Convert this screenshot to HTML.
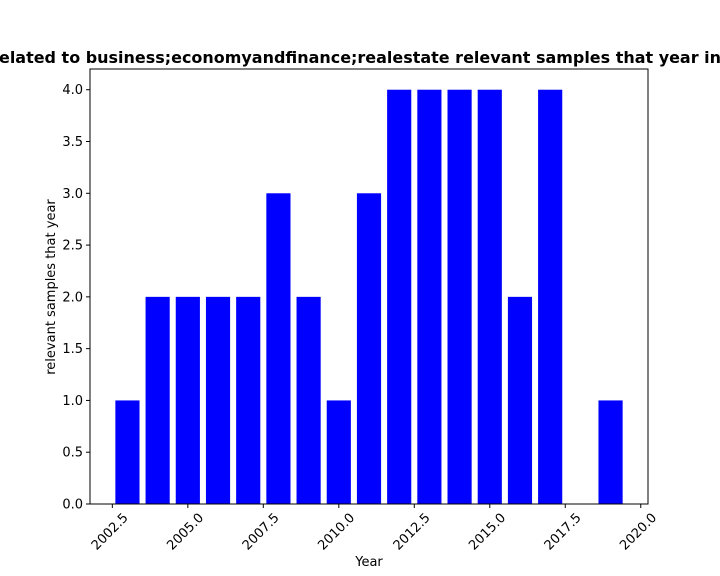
<!DOCTYPE html>
<html><head><meta charset="utf-8"><style>
body{margin:0;background:#fff;}
svg{display:block;font-family:"DejaVu Sans","Liberation Sans",sans-serif;}
</style></head><body>
<svg id="chart" width="720" height="576">
<text x="-1" y="63" font-size="16" font-weight="bold" textLength="722" lengthAdjust="spacingAndGlyphs">elated to business;economyandfinance;realestate relevant samples that year in</text>
<g id="bars"></g>
<rect x="90" y="69" width="558" height="435" fill="none" stroke="#000" stroke-width="1"/>
<g id="xticks" font-size="13"></g>
<g id="yticks" font-size="13"></g>
<text x="369" y="566" font-size="13" text-anchor="middle">Year</text>
<text transform="translate(55,287) rotate(-90)" font-size="13" text-anchor="middle">relevant samples that year</text>
</svg>
<script>
const years=[2003,2004,2005,2006,2007,2008,2009,2010,2011,2012,2013,2014,2015,2016,2017,2018,2019];
const counts=[1,2,2,2,2,3,2,1,3,4,4,4,4,2,4,0,1];
const xTicks=[2002.5,2005.0,2007.5,2010.0,2012.5,2015.0,2017.5,2020.0];
const yTicks=[0,0.5,1,1.5,2,2.5,3,3.5,4];
const NS="http://www.w3.org/2000/svg";
const x0=90,x1=648,y0=504,y1=69;
const xmin=2001.76,xmax=2020.24,ymin=0,ymax=4.2;
function X(v){return x0+(v-xmin)/(xmax-xmin)*(x1-x0);}
function Y(v){return y0-(v-ymin)/(ymax-ymin)*(y0-y1);}
const bars=document.getElementById('bars');
years.forEach((yr,i)=>{
  const r=document.createElementNS(NS,'rect');
  const l=X(yr-0.4),rr=X(yr+0.4);
  r.setAttribute('x',l);r.setAttribute('width',rr-l);
  r.setAttribute('y',Y(counts[i]));r.setAttribute('height',Y(0)-Y(counts[i]));
  r.setAttribute('fill','#0000ff');
  
  
  bars.appendChild(r);
});
const xt=document.getElementById('xticks');
xTicks.forEach(v=>{
  const px=X(v);
  const ln=document.createElementNS(NS,'line');
  ln.setAttribute('x1',px);ln.setAttribute('x2',px);ln.setAttribute('y1',504);ln.setAttribute('y2',508);ln.setAttribute('stroke','#000');
  
  
  xt.appendChild(ln);
  const t=document.createElementNS(NS,'text');
  t.setAttribute('transform','translate('+(px+10)+',512) rotate(-45)');
  t.setAttribute('text-anchor','end');t.setAttribute('dy','0.7em');
  t.textContent=v.toFixed(1);
  
  
  xt.appendChild(t);
});
const yt=document.getElementById('yticks');
yTicks.forEach(v=>{
  const py=Y(v);
  const ln=document.createElementNS(NS,'line');
  ln.setAttribute('x1',86);ln.setAttribute('x2',90);ln.setAttribute('y1',py);ln.setAttribute('y2',py);ln.setAttribute('stroke','#000');
  
  
  yt.appendChild(ln);
  const t=document.createElementNS(NS,'text');
  t.setAttribute('x',83);t.setAttribute('y',py+4.5);t.setAttribute('text-anchor','end');
  t.textContent=v.toFixed(1);
  
  
  yt.appendChild(t);
});
</script>
</body></html>
